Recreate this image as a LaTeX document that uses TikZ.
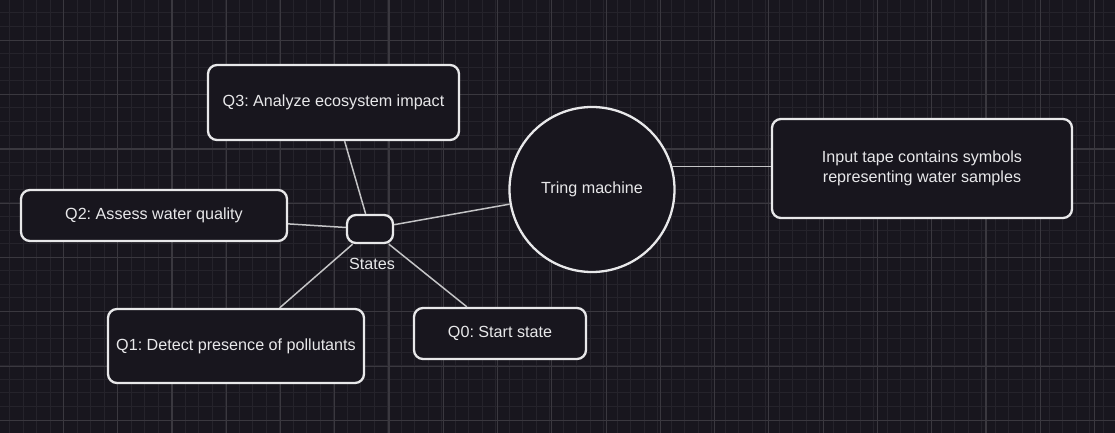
\documentclass[tikz,border=0pt]{standalone}
\usepackage{fontspec}
\setmainfont{Liberation Sans}
\usetikzlibrary{calc}
\frenchspacing

\definecolor{bg}{HTML}{18161E}
\definecolor{gridminor}{HTML}{25232B}
\definecolor{gridmajor}{HTML}{3A383F}
\definecolor{edge}{HTML}{E8E8EA}
\definecolor{wire}{HTML}{C4C4C6}

\begin{document}
\begin{tikzpicture}[x=1bp,y=-1bp,
  box/.style={draw=edge, line width=2.3bp, fill=bg, rounded corners=9bp,
    text=edge, font=\fontsize{16.2}{20}\selectfont, align=center, inner sep=0pt},
  link/.style={draw=wire, line width=1.5bp}]
% Background and grid
\fill[bg] (0,0) rectangle (1115,433);
\useasboundingbox (0,0) rectangle (1115,433);
\foreach \x in {9.5,23,...,1115}
  \draw[gridminor, line width=1bp] (\x,0) -- (\x,433);
\foreach \y in {13,26.57,...,433}
  \draw[gridminor, line width=1bp] (0,\y) -- (1115,\y);
\foreach \x in {63.5,117.76,...,1115}
  \draw[gridmajor, line width=1.2bp] (\x,0) -- (\x,433);
\foreach \y in {40.5,94.78,...,433}
  \draw[gridmajor, line width=1.2bp] (0,\y) -- (1115,\y);
% Draw states
\node[box, minimum width=251bp, minimum height=75bp] (q3) at (333.5,102.5) {Q3: Analyze ecosystem impact};
\node[box, minimum width=266bp, minimum height=51bp] (q2) at (154,215.5) {Q2: Assess water quality};
\node[box, minimum width=256bp, minimum height=74bp] (q1) at (236,346) {Q1: Detect presence of pollutants};
\node[box, minimum width=172bp, minimum height=51bp] (q0) at (500,333.5) {Q0: Start state};
\node[box, minimum width=46bp, minimum height=28bp] (states) at (370,229) {};
\node[text=edge, font=\fontsize{16.2}{20}\selectfont] (stateslabel) at (372,264) {States};
% Draw machine and tape
\node[box, circle, minimum size=165bp] (machine) at (592,189.5) {Tring machine};
\node[box, minimum width=300bp, minimum height=99bp] (tape) at (922,168.5) {Input tape contains symbols\\representing water samples};
% Draw links
\draw[link] (q3) -- (states);
\draw[link] (q2) -- (states);
\draw[link] (states) -- (q1);
\draw[link] (states) -- (q0);
\draw[link] (states) -- (machine);
\draw[link] (machine.16) -- (machine.16 -| tape.west);
\end{tikzpicture}
\end{document}
